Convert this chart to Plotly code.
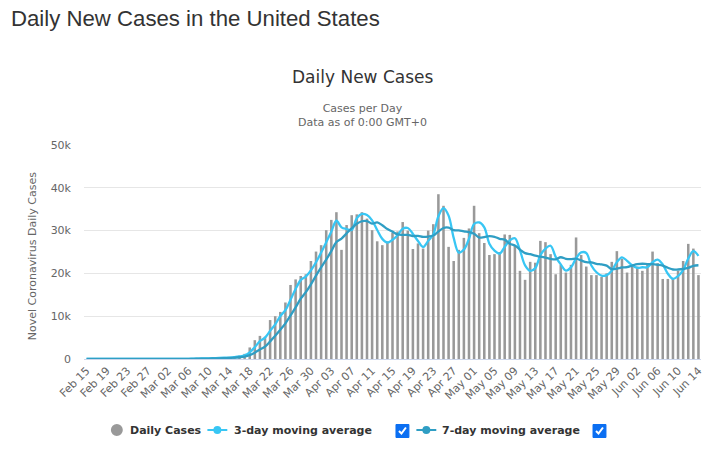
import pandas as pd
import plotly.graph_objects as go

# daily new cases, one value per day starting Feb 15 2020
start_date = "2020-02-15"
daily_cases = [
    0, 0, 0, 0, 0, 0, 2, 0, 0, 18, 0, 0, 0, 1, 2,                      # Feb 15 - Feb 29
    8, 23, 20, 31, 68, 45, 140, 116, 120, 200, 270, 290, 330, 400, 550, # Mar 01 - Mar 15
    800, 1200, 2700, 4400, 5400, 5200, 9100, 10000, 11000, 13200,       # Mar 16 - Mar 25
    17300, 18600, 19400, 19800, 22900, 25100,                           # Mar 26 - Mar 31
    26600, 30100, 32500, 34300, 25500, 31300, 33600, 33800, 34300, 32800,
    30100, 27500, 26600, 27500, 29500, 29800, 32000, 30000, 25700, 27000,
    25800, 30000, 31500, 38500, 35800, 26200, 22900, 25500, 28300, 30500,  # Apr
    35800, 29400, 27100, 24300, 24500, 25000, 29100, 29000, 26500, 20600,
    18500, 22700, 22500, 27600, 27300, 24500, 19800, 22000, 20200, 22000,
    28400, 24300, 21600, 19600, 19600, 19200, 20000, 22700, 25200, 23400,
    20200,                                                               # May
    22100, 21600, 20600, 22100, 25100, 22400, 18700, 18700, 18800, 20600,
    22900, 26900, 25800, 19600,                                          # Jun 01 - Jun 14
]

avg_3day = [
    0, 0, 0, 0, 0, 0, 1, 1, 1, 6, 6, 6, 0, 0, 1,
    4, 11, 17, 25, 40, 48, 84, 100, 125, 145, 197, 253, 297, 340, 427,
    583, 850, 1567, 2767, 4167, 5000, 6567, 8100, 10033, 11400,
    13833, 16367, 18433, 19267, 20700, 22600,
    24867, 27267, 29733, 32300, 30767, 30367, 30133, 32900, 33900, 33633,
    32400, 30133, 28067, 27200, 27867, 28933, 30433, 30600, 29233, 27567,
    26167, 27600, 29100, 33333, 35267, 33500, 28300, 24867, 25567, 28100,
    31533, 31900, 30767, 26933, 25300, 24600, 26200, 27700, 28200, 25367,
    21867, 20600, 21233, 24267, 25800, 26467, 23867, 22100, 20667, 21400,
    23533, 24900, 24767, 21833, 20267, 19467, 19600, 20633, 22633, 23767,
    22933,
    21900, 21300, 21433, 21433, 22600, 23200, 22067, 19933, 18733, 19367,
    20767, 23467, 25200, 24100,
]

avg_7day = [
    0, 0, 0, 0, 0, 0, 0, 0, 0, 3, 3, 3, 3, 3, 3,
    4, 5, 8, 12, 22, 28, 48, 63, 77, 103, 137, 169, 209, 247, 309,
    406, 549, 896, 1483, 2207, 2893, 4114, 5429, 6829, 8329,
    10171, 12057, 14086, 15614, 17457, 19471,
    21386, 23214, 25200, 27329, 28143, 29343, 30557, 31586, 32186, 32229,
    31629, 31914, 31243, 30371, 29757, 29114, 29000, 28986, 28729, 28786,
    28543, 28614, 28857, 29786, 30614, 30686, 30100, 30057, 29814, 29671,
    29286, 28371, 28500, 28700, 28557, 28086, 27886, 26914, 26500, 25571,
    24743, 24486, 24129, 23914, 23671, 23386, 23271, 23771, 23414, 23343,
    23457, 23029, 22614, 22586, 22243, 22100, 21814, 21000, 21129, 21386,
    21471,
    21829, 22171, 22257, 22171, 22157, 22014, 21800, 21314, 20914, 20914,
    21029, 21286, 21771, 21900,
]

y_ticks = [0, 10000, 20000, 30000, 40000, 50000]
y_tick_text = ["0", "10k", "20k", "30k", "40k", "50k"]

dates = pd.date_range(start_date, periods=len(daily_cases), freq="D")

# figure fills the whole page (body margin removed below)
W, H = 714, 451
PLOT_L, PLOT_R, PLOT_T, PLOT_B = 84, 704, 145, 359
ML, MR, MT, MB = PLOT_L, W - PLOT_R, PLOT_T, H - PLOT_B
PW, PH = PLOT_R - PLOT_L, PLOT_B - PLOT_T

def px(x):
    return (x - PLOT_L) / PW

def py(y):
    return (PLOT_B - y) / PH

GREY_BAR = "#999999"
C3 = "#38c6f4"
C7 = "#2f9ec4"
FONT = "DejaVu Sans"

fig = go.Figure()
fig.add_trace(go.Bar(x=dates, y=daily_cases, name="Daily Cases",
                     marker=dict(color=GREY_BAR, line=dict(width=0)),
                     showlegend=False))
fig.add_trace(go.Scatter(x=dates, y=avg_3day, name="3-day moving average", mode="lines",
                         line=dict(color=C3, width=2.3, shape="spline", smoothing=1),
                         showlegend=False))
fig.add_trace(go.Scatter(x=dates, y=avg_7day, name="7-day moving average", mode="lines",
                         line=dict(color=C7, width=2.3, shape="spline", smoothing=1),
                         showlegend=False))

fig.update_layout(
    width=W, height=H,
    margin=dict(l=ML, r=MR, t=MT, b=MB),
    paper_bgcolor="white", plot_bgcolor="white",
    bargap=0.5,
    font=dict(family=FONT, color="#666666", size=11),
    showlegend=False,
)

fig.update_xaxes(
    type="date",
    range=[dates[0] - pd.Timedelta(hours=12), dates[-1] + pd.Timedelta(hours=12)],
    tick0=start_date, dtick=4 * 86400000, tickformat="%b %d",
    tickangle=-45, tickfont=dict(size=11, color="#666666"),
    showgrid=False, showline=True, linecolor="#ccd6eb", linewidth=1,
    ticks="", zeroline=False,
)
fig.update_yaxes(
    range=[0, 50000], tickvals=y_ticks, ticktext=y_tick_text,
    showgrid=True, gridcolor="#e6e6e6", gridwidth=1, zeroline=False,
    tickfont=dict(size=11, color="#666666"), ticklabelstandoff=12,
)

def note(text, x, y, **kw):
    d = dict(text=text, x=px(x), y=py(y), xref="paper", yref="paper",
             xanchor="center", yanchor="middle", showarrow=False)
    d.update(kw)
    return d

annotations = [
    note("Daily New Cases in the United States", 10, 18, xanchor="left", borderpad=0,
         font=dict(family="Liberation Sans", size=22.2, color="#333333")),
    note("Daily New Cases", 364, 77, font=dict(family=FONT, size=17, color="#333333")),
    note("Cases per Day<br>Data as of 0:00 GMT+0", 364, 115.5,
         font=dict(family=FONT, size=11, color="#666666")),
    note("Novel Coronavirus Daily Cases", 32, 256, textangle=-90,
         font=dict(family=FONT, size=11, color="#666666")),
]

# legend, drawn by hand so that it can carry the checkboxes
LY = 430
legend_items = [
    ("Daily Cases", 128),
    ("3-day moving average", 233),
    ("7-day moving average", 442),
]
for text, x0 in legend_items:
    annotations.append(note("<b>%s</b>" % text, x0, LY, xanchor="left",
                            font=dict(family=FONT, size=11, color="#333333")))

shapes = []
shapes.append(dict(type="circle", xref="paper", yref="paper",
                   x0=px(111), x1=px(123), y0=py(436), y1=py(424),
                   fillcolor=GREY_BAR, line=dict(width=0)))
for cx, col in [(218, C3), (428, C7)]:
    shapes.append(dict(type="line", xref="paper", yref="paper",
                       x0=px(cx - 10), x1=px(cx + 10), y0=py(LY), y1=py(LY),
                       line=dict(color=col, width=2)))
    shapes.append(dict(type="circle", xref="paper", yref="paper",
                       x0=px(cx - 4), x1=px(cx + 4), y0=py(LY + 4), y1=py(LY - 4),
                       fillcolor=col, line=dict(width=0)))
for cx in [404, 602]:
    shapes.append(dict(type="rect", xref="paper", yref="paper",
                       x0=px(cx - 6.5), x1=px(cx + 6.5), y0=py(LY + 7.5), y1=py(LY - 5.5),
                       fillcolor="#0b6ff2", line=dict(color="#0b6ff2", width=1)))
    path = "M %f %f L %f %f L %f %f" % (px(cx - 3.5), py(LY + 1), px(cx - 1), py(LY + 3.5),
                                        px(cx + 3.5), py(LY - 2.5))
    shapes.append(dict(type="path", xref="paper", yref="paper", path=path,
                       line=dict(color="white", width=2)))

fig.update_layout(annotations=annotations, shapes=shapes)

fig.write_html("out.html", config={"displayModeBar": False},
               post_script="document.body.style.margin = '0px';")
